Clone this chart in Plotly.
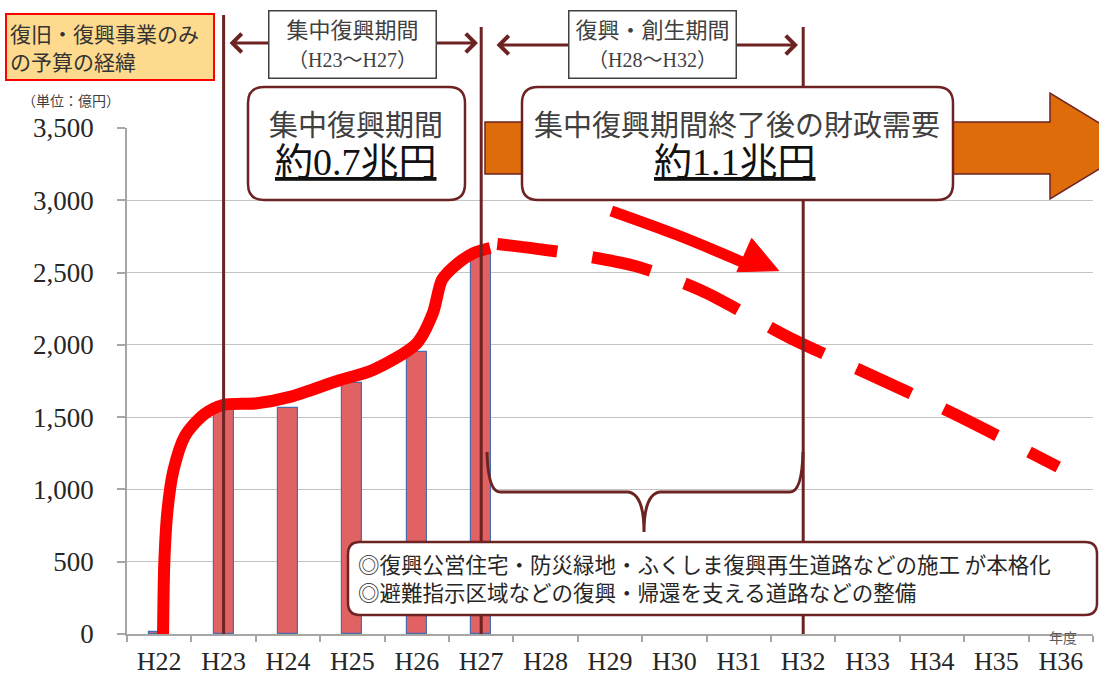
import plotly.graph_objects as go

# ---------------- data ----------------
years = ["H22", "H23", "H24", "H25", "H26", "H27", "H28", "H29",
         "H30", "H31", "H32", "H33", "H34", "H35", "H36"]
budget_years = ["H22", "H23", "H24", "H25", "H26", "H27"]
budget = [15, 1549, 1565, 1736, 1950, 2640]          # 億円
y_ticks = [0, 500, 1000, 1500, 2000, 2500, 3000, 3500]
y_tick_text = ["0", "500", "1,000", "1,500", "2,000", "2,500", "3,000", "3,500"]

# hand-drawn trend lines (x = year index, y = 億円)
solid_x = [0.06, 0.08, 0.13, 0.22, 0.40, 0.70, 0.99, 1.52, 2.03, 2.81, 3.32, 4.0, 4.25, 4.39, 4.57, 4.88, 5.14]
solid_y = [0, 500, 860, 1130, 1370, 1520, 1584, 1596, 1640, 1757, 1826, 2011, 2220, 2449, 2539, 2635, 2670]
dash_x = [5.25, 6.23, 7.39, 8.40, 9.80, 10.88, 12.28, 13.96]
dash_y = [2698, 2642, 2545, 2379, 2047, 1826, 1536, 1155]
arrow_x = [7.02, 8.04, 9.05]
arrow_y = [2926, 2760, 2573]
head_x = [9.20, 8.97, 9.62, 9.20]
head_y = [2737, 2506, 2513, 2737]

# ---------------- layout geometry ----------------
W, H = 1099, 679
ML, MR, MT, MB = 127, 6, 128, 45
PW = W - ML - MR
PH = H - MT - MB
YMAX = 3500
N = len(years)
MAROON = "#6E2323"
JP = "Noto Sans CJK JP"
SERIF_JP = "Liberation Serif, Noto Sans CJK JP"


def gx(px):
    return (px - ML) / PW


def gy(py):
    return (H - MB - py) / PH


def cx(i):
    return (i + 0.5) / N


def pt(px, py):
    return f"{gx(px):.5f},{gy(py):.5f}"


def rrect(x0, y0, x1, y1, r):
    return (f"M{pt(x0 + r, y0)} L{pt(x1 - r, y0)} Q{pt(x1, y0)} {pt(x1, y0 + r)} "
            f"L{pt(x1, y1 - r)} Q{pt(x1, y1)} {pt(x1 - r, y1)} L{pt(x0 + r, y1)} "
            f"Q{pt(x0, y1)} {pt(x0, y1 - r)} L{pt(x0, y0 + r)} Q{pt(x0, y0)} {pt(x0 + r, y0)} Z")


fig = go.Figure()

fig.add_trace(go.Bar(
    x=[years.index(y) for y in budget_years], y=budget, width=0.31,
    marker=dict(color="#E06262", line=dict(color="#4A6DB0", width=1.2)),
    hoverinfo="skip"))

fig.add_trace(go.Scatter(
    x=solid_x, y=solid_y, mode="lines",
    line=dict(color="#FF0000", width=12, shape="spline", smoothing=0.8),
    hoverinfo="skip"))
fig.add_trace(go.Scatter(
    x=dash_x, y=dash_y, mode="lines",
    line=dict(color="#FF0000", width=12, shape="spline", smoothing=0.8, dash="60px,36px"),
    hoverinfo="skip"))
fig.add_trace(go.Scatter(
    x=arrow_x, y=arrow_y, mode="lines",
    line=dict(color="#FF0000", width=11, shape="spline"),
    hoverinfo="skip"))
fig.add_trace(go.Scatter(
    x=head_x, y=head_y, mode="lines", fill="toself", fillcolor="#FF0000",
    line=dict(color="#FF0000", width=1), hoverinfo="skip"))

shapes = []
# vertical period lines at H23, H27, H32
for yr, top in (("H23", 15), ("H27", 27), ("H32", 27)):
    xi = cx(years.index(yr))
    shapes.append(dict(type="line", xref="paper", yref="paper", x0=xi, x1=xi,
                       y0=0, y1=gy(top), line=dict(color=MAROON, width=3), layer="above"))
# big orange arrow
shapes.append(dict(type="path", xref="paper", yref="paper", layer="above",
                   path=(f"M{pt(485, 122)} L{pt(1050, 122)} L{pt(1050, 93)} L{pt(1137, 146)} "
                         f"L{pt(1050, 199)} L{pt(1050, 174)} L{pt(485, 174)} Z"),
                   fillcolor="#DF6C0A", line=dict(color=MAROON, width=1.5)))
# rounded boxes
shapes.append(dict(type="path", xref="paper", yref="paper", layer="above",
                   path=rrect(248, 87, 465, 200, 16), fillcolor="white",
                   line=dict(color=MAROON, width=2.5)))
shapes.append(dict(type="path", xref="paper", yref="paper", layer="above",
                   path=rrect(522, 87, 953, 200, 16), fillcolor="white",
                   line=dict(color=MAROON, width=2.5)))
# brace
shapes.append(dict(type="path", xref="paper", yref="paper", layer="above",
                   path=(f"M{pt(487, 452)} Q{pt(488, 492)} {pt(500, 492)} L{pt(628, 492)} "
                         f"Q{pt(644, 494)} {pt(644, 532)} Q{pt(644, 494)} {pt(660, 492)} "
                         f"L{pt(790, 492)} Q{pt(802, 492)} {pt(803, 452)}"),
                   line=dict(color=MAROON, width=3)))
# bottom box
shapes.append(dict(type="path", xref="paper", yref="paper", layer="above",
                   path=rrect(348, 542, 1097, 615, 12), fillcolor="white",
                   line=dict(color=MAROON, width=2.5)))


def note(px, py, text, size, color, family=JP, xanchor="center", **kw):
    d = dict(xref="paper", yref="paper", x=gx(px), y=gy(py), xanchor=xanchor,
             yanchor=kw.pop("yanchor", "middle"), text=text, showarrow=False,
             font=dict(family=family, size=size, color=color))
    d.update(kw)
    return d


ann = []
# title box
ann.append(note(5, 13, "復旧・復興事業のみ<br>の予算の経緯", 21, "#333333", xanchor="left",
                yanchor="top", align="left", bgcolor="#FDDA8E", bordercolor="#FF0000",
                borderwidth=2, borderpad=3, width=200, height=58))
ann.append(note(71, 100, "（単位：億円）", 14, "#404040"))
# double arrows
for x_left, x_right, yy in ((228, 478, 43), (495, 798, 45)):
    ann.append(dict(xref="paper", yref="paper", x=gx(x_right), y=gy(yy),
                    xanchor="center", yanchor="middle",
                    axref="pixel", ayref="pixel", ax=-(x_right - x_left), ay=0,
                    text="", showarrow=True, arrowside="end+start",
                    arrowhead=4, startarrowhead=4, arrowsize=1.2, startarrowsize=1.2,
                    arrowwidth=3, arrowcolor=MAROON))
# period labels
for xc, t1, t2 in ((352.5, "集中復興期間", "（H23〜H27）"), (652.5, "復興・創生期間", "（H28〜H32）")):
    ann.append(note(xc, 44.5, f"{t1}<br><span style='font-size:20px'>{t2}</span>", 22,
                    "#404040", family=SERIF_JP, bgcolor="white", bordercolor="#404040",
                    borderwidth=1.5, borderpad=3, width=160, height=60))
# big box texts
ann.append(note(356, 123, "集中復興期間", 29, "#404040"))
ann.append(note(356, 162, "<u>約0.7兆円</u>", 38, "#111111", family=SERIF_JP))
ann.append(note(737, 123, "集中復興期間終了後の財政需要", 29, "#404040"))
ann.append(note(735, 162, "<u>約1.1兆円</u>", 38, "#111111", family=SERIF_JP))
# bottom box text
ann.append(note(356, 577,
                "◎復興公営住宅・防災緑地・ふくしま復興再生道路などの施工 が本格化<br>"
                "◎避難指示区域などの復興・帰還を支える道路などの整備",
                21.5, "#262626", xanchor="left", align="left"))
ann.append(note(1063, 637, "年度", 14, "#595959"))

fig.update_layout(
    width=W, height=H, margin=dict(l=ML, r=MR, t=MT, b=MB, pad=0, autoexpand=False),
    paper_bgcolor="white", plot_bgcolor="white", showlegend=False, hovermode=False,
    shapes=shapes, annotations=ann, bargap=0,
    xaxis=dict(range=[-0.5, N - 0.5], tickmode="array", tickvals=list(range(N)), ticktext=years,
               ticks="", showgrid=False, zeroline=False, showline=True, linecolor="#A6A6A6",
               linewidth=1.5, ticklabelstandoff=3, automargin=False,
               tickfont=dict(family="Liberation Serif", size=26, color="#262626"),
               minor=dict(tickmode="array", tickvals=[i - 0.5 for i in range(N + 1)],
                          ticks="outside", ticklen=6, tickcolor="#A6A6A6", tickwidth=1.5,
                          showgrid=False)),
    yaxis=dict(range=[0, YMAX], tickmode="array", tickvals=y_ticks, ticktext=y_tick_text,
               ticks="outside", ticklen=8, tickcolor="#A6A6A6", tickwidth=1.5,
               showgrid=True, gridcolor="#C4C4C4", gridwidth=1.3, zeroline=False,
               showline=True, linecolor="#A6A6A6", linewidth=1.5, ticklabelstandoff=18,
               automargin=False,
               tickfont=dict(family="Liberation Serif", size=27, color="#262626")),
)

fig.write_html("out.html", config={"displayModeBar": False},
               post_script="document.body.style.margin='0px';")
